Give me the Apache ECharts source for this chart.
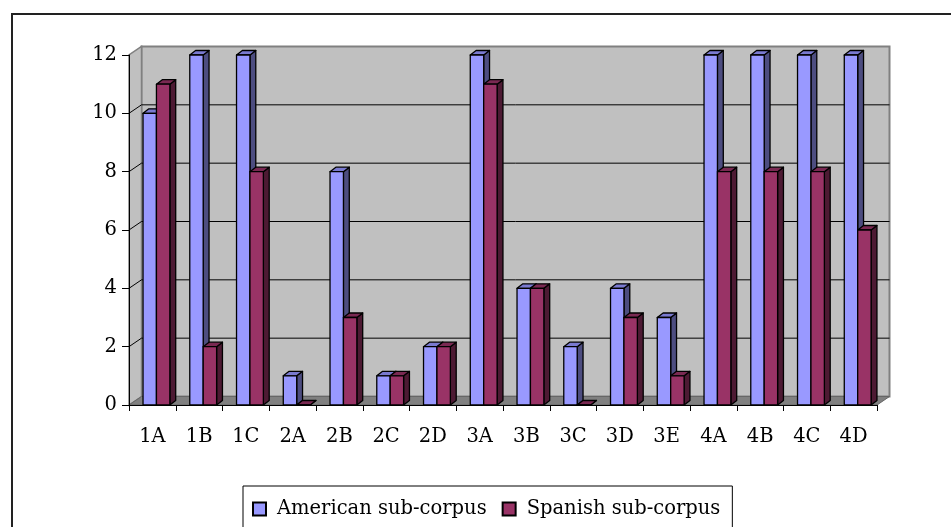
<!DOCTYPE html>
<html>
<head>
<meta charset="utf-8">
<script src="https://cdn.jsdelivr.net/npm/echarts@6/dist/echarts.min.js"></script>
<style>
html,body{margin:0;padding:0;background:#fff;}
#chart{width:951px;height:527px;}
</style>
</head>
<body>
<div id="chart"></div>
<script>
const categories = ['1A','1B','1C','2A','2B','2C','2D','3A','3B','3C','3D','3E','4A','4B','4C','4D'];
const american = [10,12,12,1,8,1,2,12,4,2,4,3,12,12,12,12];
const spanish  = [11,2,8,0,3,1,2,11,4,0,3,1,8,8,8,6];
const yTicks = [0,2,4,6,8,10,12];
const seriesNames = ['American sub-corpus','Spanish sub-corpus'];

const FONT = 'DejaVu Serif';
const WALL_DX = 12.5, WALL_DY = -8.5;
const palette = [
  {front:'#9999FF', top:'#7a7ad0', side:'#4d4d80'},
  {front:'#993366', top:'#7a2952', side:'#4d1a33'}
];

function barRenderer(idx){
  return function(params, api){
    const ci = api.value(0), v = api.value(1);
    const band = api.size([1,0])[0];
    const c = api.coord([ci, v]);
    const base = api.coord([ci, 0])[1];
    const S = c[0] - band/2;
    const x0 = S + band*(idx===0 ? 0.300 : 0.587);
    const w = band*0.287;
    const dx = band*0.125, dy = -4.5;
    const top = c[1];
    const col = palette[idx];
    const st = {stroke:'#000', lineWidth:1.3, lineJoin:'round'};
    return {type:'group', children:[
      {type:'polygon', shape:{points:[[x0+w,top],[x0+w+dx,top+dy],[x0+w+dx,base+dy],[x0+w,base]]},
        style:Object.assign({fill:col.side}, st)},
      {type:'polygon', shape:{points:[[x0,top],[x0+w,top],[x0+w+dx,top+dy],[x0+dx,top+dy]]},
        style:Object.assign({fill:col.top}, st)},
      {type:'rect', shape:{x:x0, y:top, width:w, height:base-top},
        style:Object.assign({fill:col.front}, st)}
    ]};
  };
}

function wallRenderer(params, api){
  const band = api.size([1,0])[0];
  const xL = api.coord([0,0])[0] - band/2;
  const xR = api.coord([categories.length-1,0])[0] + band/2;
  const y0 = api.coord([0,yTicks[0]])[1];
  const yT = api.coord([0,yTicks[yTicks.length-1]])[1];
  const bx = xL + WALL_DX, bxr = xR + WALL_DX;
  const children = [];
  children.push({type:'rect', shape:{x:bx, y:yT+WALL_DY, width:bxr-bx, height:y0-yT},
    style:{fill:'#c0c0c0', stroke:'#808080', lineWidth:2}});
  children.push({type:'polygon', shape:{points:[[xL,y0],[xL,yT],[bx,yT+WALL_DY],[bx,y0+WALL_DY]]},
    style:{fill:'#c0c0c0', stroke:'#808080', lineWidth:1.5}});
  children.push({type:'polygon', shape:{points:[[xL,y0],[xR,y0],[bxr,y0+WALL_DY],[bx,y0+WALL_DY]]},
    style:{fill:'#808080', stroke:'#666', lineWidth:1}});
  yTicks.forEach(function(t, i){
    if (i === 0 || i === yTicks.length-1) return;
    const y = api.coord([0,t])[1];
    children.push({type:'line', shape:{x1:bx, y1:y+WALL_DY, x2:bxr, y2:y+WALL_DY}, style:{stroke:'#000', lineWidth:1}});
    children.push({type:'line', shape:{x1:xL, y1:y, x2:bx, y2:y+WALL_DY}, style:{stroke:'#000', lineWidth:1}});
  });
  return {type:'group', children:children};
}

const chart = echarts.init(document.getElementById('chart'), null, {renderer:'canvas'});
chart.setOption({
  animation:false,
  backgroundColor:'#fff',
  textStyle:{fontFamily:FONT},
  graphic:[{type:'rect', left:9.5, top:11.5, shape:{width:1000, height:600}, silent:true,
    style:{fill:'none', stroke:'#222', lineWidth:2}, z:-10}],
  grid:{left:129, right:74, top:55, bottom:122, containLabel:false},
  xAxis:{type:'category', data:categories, z:10,
    axisLine:{lineStyle:{color:'#000', width:1}},
    axisTick:{show:true, length:6, lineStyle:{color:'#000'}},
    axisLabel:{color:'#000', fontFamily:FONT, fontSize:19.5, margin:22},
    splitLine:{show:false}},
  yAxis:{type:'value', min:yTicks[0], max:yTicks[yTicks.length-1], interval:2, z:10,
    axisLine:{show:true, lineStyle:{color:'#000', width:1}},
    axisTick:{show:true, length:7, lineStyle:{color:'#000'}},
    axisLabel:{color:'#000', fontFamily:FONT, fontSize:19.5, margin:12},
    splitLine:{show:false}},
  legend:{data:seriesNames, left:243, top:486, orient:'horizontal',
    borderColor:'#000', borderWidth:1, padding:[13,12,14,9],
    itemWidth:13, itemHeight:13, itemGap:15, icon:'rect',
    textStyle:{color:'#000', fontFamily:FONT, fontSize:19.5, padding:[0,0,0,6]}},
  series:[
    {type:'custom', name:'wall', renderItem:wallRenderer, data:[[0,0]], z:1, silent:true, clip:false},
    {type:'custom', name:seriesNames[0], renderItem:barRenderer(0), z:3, clip:false,
      itemStyle:{color:palette[0].front, borderColor:'#000', borderWidth:1},
      data:american.map(function(v,i){return [i,v];})},
    {type:'custom', name:seriesNames[1], renderItem:barRenderer(1), z:4, clip:false,
      itemStyle:{color:palette[1].front, borderColor:'#000', borderWidth:1},
      data:spanish.map(function(v,i){return [i,v];})}
  ]
});
</script>
</body>
</html>
